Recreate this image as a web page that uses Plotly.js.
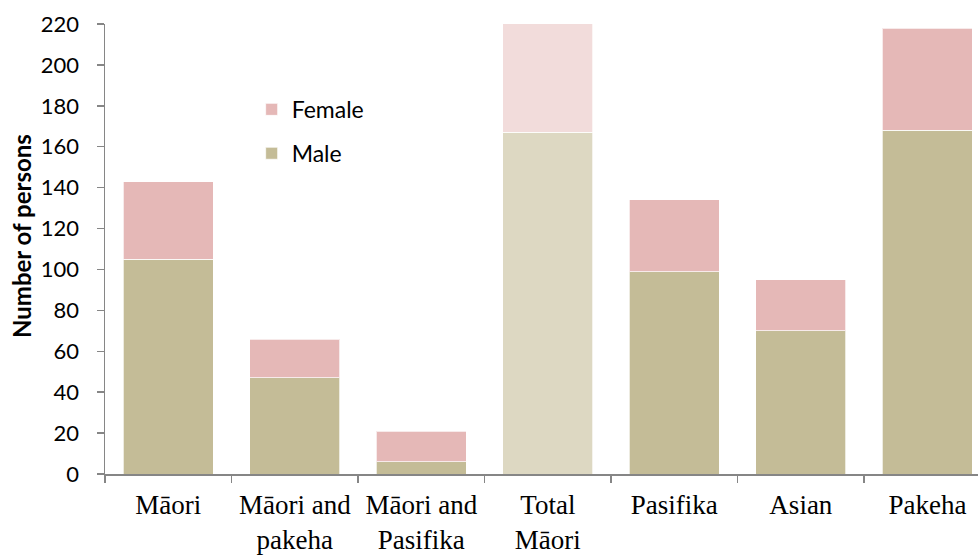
<!DOCTYPE html>
<html>
<head>
<meta charset="utf-8">
<script src="https://cdn.plot.ly/plotly-3.0.1.min.js"></script>
<style>html,body{margin:0;padding:0;background:#fff;}#chart{width:978px;height:556px;}</style>
</head>
<body>
<div id="chart"></div>
<script>
const categories = ["Māori", "Māori and<br>pakeha", "Māori and<br>Pasifika", "Total<br>Māori", "Pasifika", "Asian", "Pakeha"];
const maleValues = [105, 47, 6, 167, 99, 70, 168];
const femaleValues = [38, 19, 15, 72, 35, 25, 50];
const yTicks = [0, 20, 40, 60, 80, 100, 120, 140, 160, 180, 200, 220];
const yTitle = "Number of persons";

const maleColors = categories.map(c => c.startsWith("Total") ? "#DDD8C2" : "#C4BC97");
const femaleColors = categories.map(c => c.startsWith("Total") ? "#F2DCDB" : "#E5B8B7");

const traces = [
  {type: "bar", name: "Male", x: categories, y: maleValues, legendgroup: "m", legendrank: 2,
   marker: {color: maleColors, line: {color: "rgba(255,255,255,0.7)", width: 1}}},
  {type: "bar", name: "Female", x: categories, y: femaleValues, legendgroup: "f", legendrank: 1,
   marker: {color: femaleColors, line: {color: "rgba(255,255,255,0.7)", width: 1}}}
];

const layout = {
  width: 978, height: 556,
  margin: {l: 105, r: 0, t: 24, b: 82},
  barmode: "stack",
  bargap: 0.29,
  paper_bgcolor: "#fff", plot_bgcolor: "#fff",
  font: {family: "Lato, 'Open Sans', sans-serif", color: "#000"},
  xaxis: {
    type: "category", range: [-0.5, 6.4],
    showline: true, linecolor: "#868686", linewidth: 1.5,
    ticks: "outside", tickson: "boundaries", ticklen: 7, tickcolor: "#868686", tickwidth: 1.5,
    ticklabelstandoff: 6,
    tickfont: {family: "'Liberation Serif', serif", size: 27, color: "#000"},
    showgrid: false, zeroline: false, fixedrange: true
  },
  yaxis: {
    range: [0, 220], tickvals: yTicks,
    showline: true, linecolor: "#868686", linewidth: 1.5,
    ticks: "outside", ticklen: 7, tickcolor: "#868686", tickwidth: 1.5,
    ticklabelstandoff: 13,
    tickfont: {family: "Lato, sans-serif", size: 22, color: "#000"},
    showgrid: false, zeroline: false
  },
  annotations: [{
    text: "<b>" + yTitle + "</b>", xref: "paper", yref: "paper",
    x: -0.095, y: 0.529, xanchor: "center", yanchor: "middle",
    textangle: -90, showarrow: false,
    font: {family: "Lato, sans-serif", size: 24, color: "#000"}
  }],
  showlegend: true,
  legend: {
    x: 0.168, y: 0.858, xanchor: "left", yanchor: "top",
    traceorder: "grouped", tracegroupgap: 11,
    font: {family: "Lato, sans-serif", size: 23, color: "#000"},
    bgcolor: "rgba(0,0,0,0)"
  }
};

Plotly.newPlot("chart", traces, layout, {displayModeBar: false, staticPlot: true});
</script>
</body>
</html>
